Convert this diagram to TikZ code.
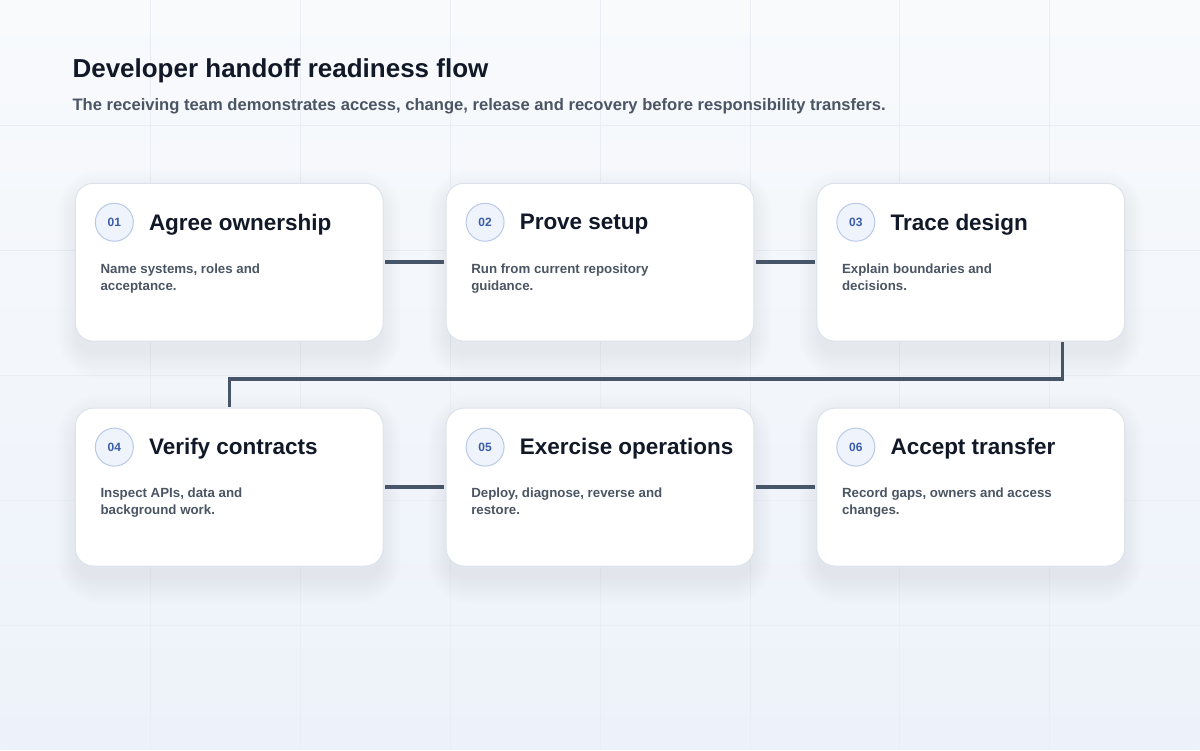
\documentclass[tikz,border=0pt]{standalone}
\usepackage{fontspec}
\setmainfont{Liberation Sans}
\usepackage{xcolor}
\usetikzlibrary{positioning,calc}

\definecolor{bgtop}{HTML}{F8FAFC}
\definecolor{bgbot}{HTML}{EDF2FA}
\definecolor{gridline}{HTML}{E9EDF4}
\definecolor{inkdark}{HTML}{111827}
\definecolor{inkgray}{HTML}{4B5563}
\definecolor{wire}{HTML}{475569}
\definecolor{cardedge}{HTML}{DDE3EC}
\definecolor{shadowcol}{HTML}{3A4A70}
\definecolor{dotfill}{HTML}{EEF3FC}
\definecolor{dotedge}{HTML}{B8CAE8}
\definecolor{dottext}{HTML}{3B5CA6}

\pgfdeclarelayer{backdrop}
\pgfdeclarelayer{shadow}
\pgfsetlayers{backdrop,shadow,main}

\begin{document}
\begin{tikzpicture}[x=1pt, y=-1pt,
        card/.style={draw=cardedge, line width=1pt, fill=white, rounded corners=18pt,
            minimum width=308pt, minimum height=158pt, inner sep=0pt, outer sep=0pt},
        numdot/.style={circle, draw=dotedge, line width=1pt, fill=dotfill, minimum size=38pt, inner sep=0pt,
            font=\fontsize{12}{14}\selectfont\bfseries, text=dottext},
        cardtitle/.style={anchor=west, inner sep=0pt, yshift=-2pt, font=\fontsize{22.5}{26}\selectfont\bfseries, text=inkdark},
        carddesc/.style={anchor=north west, inner sep=0pt, align=left, font=\fontsize{13.3}{17}\selectfont\bfseries, text=inkgray},
        link/.style={draw=wire, line width=3.5pt}
    ]
        % background and faint grid
        \begin{pgfonlayer}{backdrop}
            \shade[top color=bgtop, bottom color=bgbot] (0,0) rectangle (1200,750);
            \foreach \gx in {150,300,...,1050}
                \draw[gridline, line width=0.8pt] (\gx,0) -- (\gx,750);
            \foreach \gy in {125,250,...,625}
                \draw[gridline, line width=0.8pt] (0,\gy) -- (1200,\gy);
        \end{pgfonlayer}
        \useasboundingbox (0,0) rectangle (1200,750);

        % heading
        \node[anchor=base west, inner sep=0pt, font=\fontsize{26}{30}\selectfont\bfseries, text=inkdark] (head) at (72,77) {Developer handoff readiness flow};
        \node[anchor=base west, inner sep=0pt, font=\fontsize{16.6}{20}\selectfont\bfseries, text=inkgray] (sub) at (72,110) {The receiving team demonstrates access, change, release and recovery before responsibility transfers.};

        % cards
        \node[card, anchor=north west] (card1) at (75,183) {};
        \node[card, right=63pt of card1] (card2) {};
        \node[card, right=63pt of card2] (card3) {};
        \node[card, anchor=north west] (card4) at (75,408) {};
        \node[card, right=63pt of card4] (card5) {};
        \node[card, right=63pt of card5] (card6) {};

        % connectors
        \coordinate (turn) at (0,379);
        \coordinate (drop) at ([xshift=-62pt]card3.south east);
        \coordinate (rise) at ([xshift=154pt]card4.north west);
        \draw[link] ([xshift=2pt]card1.east) -- ([xshift=-2pt]card2.west);
        \draw[link] ([xshift=2pt]card2.east) -- ([xshift=-2pt]card3.west);
        \draw[link] ([yshift=-1pt]drop) -- (drop |- turn) -| ([yshift=1pt]rise);
        \draw[link] ([xshift=2pt]card4.east) -- ([xshift=-2pt]card5.west);
        \draw[link] ([xshift=2pt]card5.east) -- ([xshift=-2pt]card6.west);

        % card contents
        \foreach \c/\num/\ttl/\dsc in {
            card1/01/Agree ownership/{Name systems, roles and\\acceptance.},
            card2/02/Prove setup/{Run from current repository\\guidance.},
            card3/03/Trace design/{Explain boundaries and\\decisions.},
            card4/04/Verify contracts/{Inspect APIs, data and\\background work.},
            card5/05/Exercise operations/{Deploy, diagnose, reverse and\\restore.},
            card6/06/Accept transfer/{Record gaps, owners and access\\changes.}} {
            \begin{pgfonlayer}{shadow}
                \foreach \k in {0,2,...,26}
                    \fill[shadowcol, opacity=0.0055, rounded corners=18pt+\k pt]
                        ($(\c.north west)+(-0.7*\k,-\k+12)$) rectangle ($(\c.south east)+(0.7*\k,\k+12)$);
            \end{pgfonlayer}
            \node[numdot] (\c-num) at ([xshift=39pt,yshift=-39pt]\c.north west) {\num};
            \node[cardtitle, right=15pt of \c-num] (\c-title) {\ttl};
            \node[carddesc] (\c-desc) at ([xshift=25pt,yshift=-80pt]\c.north west) {\dsc};
        }
    \end{tikzpicture}
\end{document}
